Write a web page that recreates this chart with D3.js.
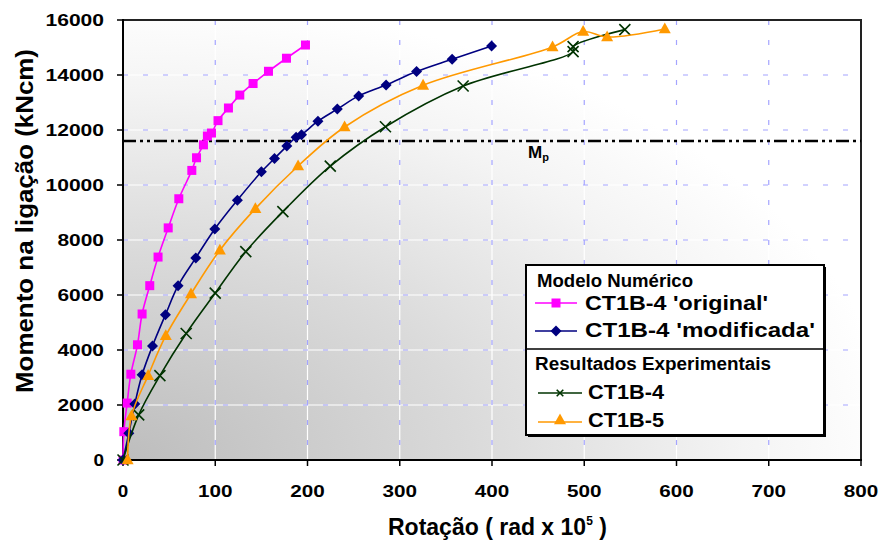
<!DOCTYPE html>
<html>
<head>
<meta charset="utf-8">
<script src="https://cdn.jsdelivr.net/npm/d3@7"></script>
<style>
  body { margin: 0; background: #fff; }
  svg { display: block; }
  text { font-family: "Liberation Sans", Arial, sans-serif; font-weight: bold; fill: #000; }
</style>
</head>
<body>
<svg id="chart" width="882" height="544"></svg>
<script>
// Axis ticks
const xTicks = [0, 100, 200, 300, 400, 500, 600, 700, 800];
const yTicks = [0, 2000, 4000, 6000, 8000, 10000, 12000, 14000, 16000];

// Plastic moment of the connection (kNcm)
const momentPlastic = 11600;

// Modelo Numérico — CT1B-4 'original' (rotation rad x 10^5, moment kNcm)
const originalRot = [0, 0.9, 4.5, 8.5, 15.7, 20.7, 29, 38, 49, 60.5, 74.6, 79.7, 87.2, 91.5, 95.9, 103, 114.3, 126.6, 141, 157.7, 177.2, 197.8];
const originalMom = [0, 1030, 2070, 3120, 4190, 5310, 6340, 7380, 8440, 9500, 10530, 10990, 11460, 11780, 11890, 12340, 12800, 13270, 13690, 14135, 14610, 15090];

// Modelo Numérico — CT1B-4 'modificada'
const modRot = [0, 6.3, 12.8, 20.7, 32, 46, 59.7, 78.9, 99.5, 124, 150, 164.2, 177.6, 187.7, 193.5, 211.3, 232.3, 255.5, 285.2, 318.2, 356.8, 399.5];
const modMom = [0, 970, 2040, 3100, 4150, 5280, 6340, 7350, 8400, 9450, 10480, 10965, 11415, 11740, 11830, 12320, 12760, 13240, 13636, 14124, 14572, 15057];

// Resultados Experimentais — CT1B-4
const ct4Rot = [0, 17, 40, 68.5, 100, 133.1, 173.3, 224.7, 284.5, 368.7, 487.9, 487.9, 544];
const ct4Mom = [0, 1640, 3070, 4600, 6070, 7577, 9030, 10686, 12120, 13600, 14850, 15030, 15650];

// Resultados Experimentais — CT1B-5
const ct5Rot = [5, 9.2, 27.2, 46.4, 73.7, 105, 143.5, 189.8, 240.2, 325.3, 465.6, 498.8, 524.8, 587.3];
const ct5Mom = [0, 1600, 3070, 4520, 6040, 7630, 9140, 10690, 12110, 13625, 15020, 15580, 15385, 15676];

const svg = d3.select("#chart");
const plot = { left: 123, right: 861, top: 20, bottom: 460 };

const x = d3.scaleLinear().domain([0, 800]).range([plot.left, plot.right]);
const y = d3.scaleLinear().domain([0, 16000]).range([plot.bottom, plot.top]);

// Plot area background: grey in the lower-left corner fading to white
const defs = svg.append("defs");
const grad = defs.append("radialGradient")
  .attr("id", "bg").attr("cx", 0).attr("cy", 1).attr("r", 1.05)
  .attr("fx", 0).attr("fy", 1);
grad.append("stop").attr("offset", 0).attr("stop-color", "#bdbdbd");
grad.append("stop").attr("offset", 0.45).attr("stop-color", "#dadada");
grad.append("stop").attr("offset", 0.8).attr("stop-color", "#f4f4f4");
grad.append("stop").attr("offset", 1).attr("stop-color", "#ffffff");

svg.append("rect")
  .attr("x", plot.left).attr("y", plot.top)
  .attr("width", plot.right - plot.left).attr("height", plot.bottom - plot.top)
  .attr("fill", "url(#bg)");

// Gridlines: white line with blue dashes over it
const grid = svg.append("g");
const vGrid = xTicks.filter(d => d > 0 && d < 800);
const hGrid = yTicks.filter(d => d > 0 && d < 16000);
[["#ffffff", null, 1.2], ["#a4a4ff", "5,15", 1.2]].forEach(([c, dash, w]) => {
  grid.selectAll(null).data(vGrid).join("line")
    .attr("x1", d => x(d)).attr("x2", d => x(d))
    .attr("y1", plot.top).attr("y2", plot.bottom)
    .attr("stroke", c).attr("stroke-width", w).attr("stroke-dasharray", dash);
  grid.selectAll(null).data(hGrid).join("line")
    .attr("y1", d => y(d)).attr("y2", d => y(d))
    .attr("x1", plot.left).attr("x2", plot.right)
    .attr("stroke", c).attr("stroke-width", w).attr("stroke-dasharray", dash);
});

// Plot frame
svg.append("rect")
  .attr("x", plot.left).attr("y", plot.top)
  .attr("width", plot.right - plot.left).attr("height", plot.bottom - plot.top)
  .attr("fill", "none").attr("stroke", "#222").attr("stroke-width", 2);

// Mp reference line
svg.append("line")
  .attr("x1", plot.left).attr("x2", plot.right)
  .attr("y1", y(momentPlastic)).attr("y2", y(momentPlastic))
  .attr("stroke", "#000").attr("stroke-width", 2.5)
  .attr("stroke-dasharray", "13,4,3,4,3,4");
const mpLabel = svg.append("text").attr("x", 528).attr("y", y(momentPlastic) + 17).attr("font-size", 17);
mpLabel.append("tspan").text("M");
mpLabel.append("tspan").attr("font-size", 11).attr("dy", 3).text("p");

// Axes
const axisG = svg.append("g");
axisG.append("line").attr("x1", plot.left).attr("x2", plot.left)
  .attr("y1", plot.top - 1).attr("y2", plot.bottom + 1).attr("stroke", "#000").attr("stroke-width", 2);
axisG.append("line").attr("x1", plot.left - 1).attr("x2", plot.right + 1)
  .attr("y1", plot.bottom).attr("y2", plot.bottom).attr("stroke", "#000").attr("stroke-width", 2);

axisG.selectAll(null).data(yTicks).join("line")
  .attr("x1", plot.left - 6).attr("x2", plot.left)
  .attr("y1", d => y(d)).attr("y2", d => y(d))
  .attr("stroke", "#000").attr("stroke-width", 1.5);
axisG.selectAll(null).data(xTicks).join("line")
  .attr("x1", d => x(d)).attr("x2", d => x(d))
  .attr("y1", plot.bottom).attr("y2", plot.bottom + 6)
  .attr("stroke", "#000").attr("stroke-width", 1.5);

const labelWidth = s => String(s).length * 12 - 1.5;
axisG.selectAll(null).data(yTicks).join("text")
  .attr("x", 104).attr("y", d => y(d) + 6)
  .attr("text-anchor", "end").attr("font-size", 16.5)
  .attr("textLength", d => labelWidth(d)).attr("lengthAdjust", "spacingAndGlyphs")
  .text(d => d);
axisG.selectAll(null).data(xTicks).join("text")
  .attr("x", d => x(d)).attr("y", 497)
  .attr("text-anchor", "middle").attr("font-size", 16.5)
  .attr("textLength", d => labelWidth(d)).attr("lengthAdjust", "spacingAndGlyphs")
  .text(d => d);

// Axis titles
svg.append("text")
  .attr("transform", "translate(33,221) rotate(-90)")
  .attr("text-anchor", "middle").attr("font-size", 24)
  .attr("textLength", 344).attr("lengthAdjust", "spacingAndGlyphs")
  .text("Momento na ligação (kNcm)");

const xt = svg.append("text").attr("x", 388).attr("y", 535).attr("font-size", 23);
xt.append("tspan").text("Rotação ( rad x 10");
xt.append("tspan").attr("font-size", 12).attr("dy", -10).text("5");
xt.append("tspan").attr("dy", 10).text(" )");

// Series
const series = [
  { rot: originalRot, mom: originalMom, color: "#ff00ff", marker: "square" },
  { rot: modRot, mom: modMom, color: "#000080", marker: "diamond" },
  { rot: ct4Rot, mom: ct4Mom, color: "#003300", marker: "cross" },
  { rot: ct5Rot, mom: ct5Mom, color: "#ff9900", marker: "triangle" }
];

const line = d3.line().x(d => x(d[0])).y(d => y(d[1])).curve(d3.curveCatmullRom.alpha(0.5));

function drawMarker(g, type, color, cx, cy, scale = 1) {
  if (type === "square") {
    const s = 9 * scale;
    g.append("rect").attr("x", cx - s / 2).attr("y", cy - s / 2).attr("width", s).attr("height", s).attr("fill", color);
  } else if (type === "diamond") {
    const r = 5.5 * scale;
    g.append("path").attr("d", `M${cx},${cy - r}L${cx + r},${cy}L${cx},${cy + r}L${cx - r},${cy}Z`).attr("fill", color);
  } else if (type === "cross") {
    const r = 5.5 * scale;
    g.append("path").attr("d", `M${cx - r},${cy - r}L${cx + r},${cy + r}M${cx - r},${cy + r}L${cx + r},${cy - r}`)
      .attr("stroke", color).attr("stroke-width", 1.6).attr("fill", "none");
  } else if (type === "triangle") {
    const s = 12 * scale, h = s * 0.9;
    g.append("path").attr("d", `M${cx},${cy - h * 0.6}L${cx + s / 2},${cy + h * 0.4}L${cx - s / 2},${cy + h * 0.4}Z`).attr("fill", color);
  }
}

const seriesG = svg.append("g");
series.forEach(s => {
  const pts = s.rot.map((r, i) => [r, s.mom[i]]);
  seriesG.append("path").datum(pts).attr("d", line)
    .attr("fill", "none").attr("stroke", s.color).attr("stroke-width", 1.6);
  const mg = seriesG.append("g");
  pts.forEach(p => drawMarker(mg, s.marker, s.color, x(p[0]), y(p[1])));
});

// Legend
const lg = svg.append("g");
lg.append("rect").attr("x", 528).attr("y", 267).attr("width", 298).attr("height", 170).attr("fill", "#000");
lg.append("rect").attr("x", 526).attr("y", 265).attr("width", 298).attr("height", 170)
  .attr("fill", "#fff").attr("stroke", "#000").attr("stroke-width", 2);
lg.append("line").attr("x1", 526).attr("x2", 824).attr("y1", 349).attr("y2", 349)
  .attr("stroke", "#000").attr("stroke-width", 1.5);

const legendTitles = [
  { text: "Modelo Numérico", x: 537, y: 287, size: 17.5, w: 156 },
  { text: "Resultados Experimentais", x: 535, y: 370, size: 17.5, w: 236 }
];
legendTitles.forEach(t => lg.append("text").attr("x", t.x).attr("y", t.y).attr("font-size", t.size)
  .attr("textLength", t.w).attr("lengthAdjust", "spacingAndGlyphs").text(t.text));

const legendItems = [
  { s: series[0], label: "CT1B-4 'original'", ly: 303, x0: 535, x1: 577, tx: 585, ty: 310, w: 183, ms: 1 },
  { s: series[1], label: "CT1B-4 'modificada'", ly: 331, x0: 535, x1: 577, tx: 585, ty: 337, w: 230, ms: 1 },
  { s: series[2], label: "CT1B-4", ly: 393, x0: 538, x1: 582, tx: 588, ty: 399, w: 76, ms: 0.6 },
  { s: series[3], label: "CT1B-5", ly: 422, x0: 538, x1: 582, tx: 588, ty: 427, w: 76, ms: 1 }
];
legendItems.forEach(it => {
  lg.append("line").attr("x1", it.x0).attr("x2", it.x1).attr("y1", it.ly).attr("y2", it.ly)
    .attr("stroke", it.s.color).attr("stroke-width", 1.6);
  drawMarker(lg, it.s.marker, it.s.color, (it.x0 + it.x1) / 2, it.ly - (it.s.marker === "triangle" ? 2 : 0), it.ms);
  lg.append("text").attr("x", it.tx).attr("y", it.ty).attr("font-size", 20.5)
    .attr("textLength", it.w).attr("lengthAdjust", "spacingAndGlyphs").text(it.label);
});
</script>
</body>
</html>
